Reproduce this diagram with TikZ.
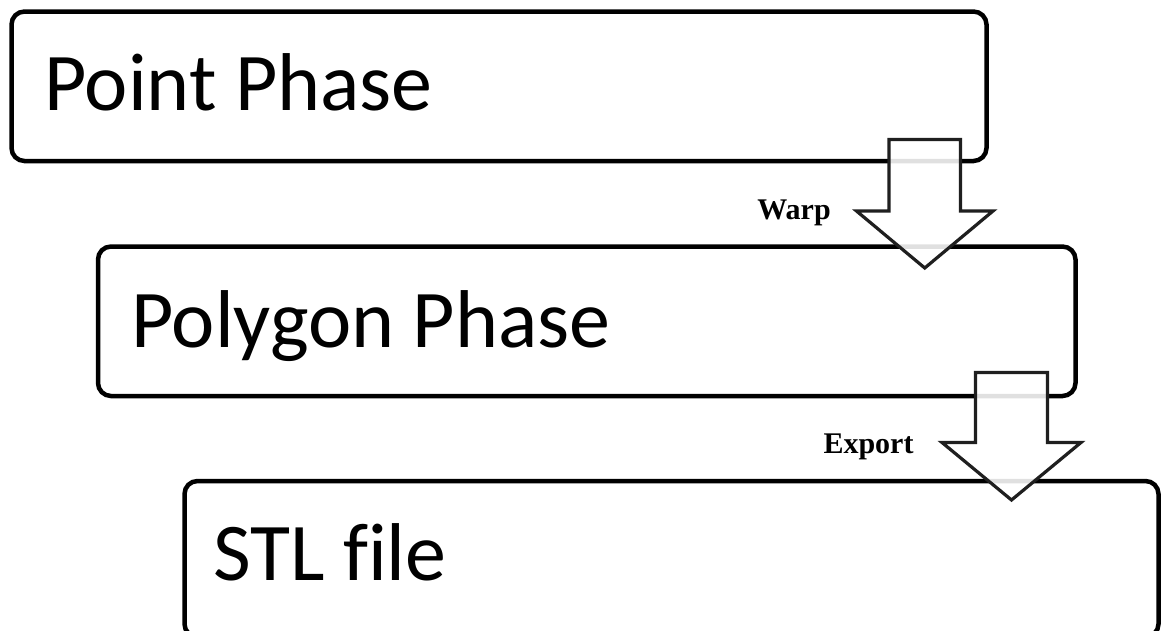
\documentclass[tikz,border=0pt]{standalone}
\usepackage{fontspec}
\setmainfont[Ligatures=CommonOff]{Carlito}
\newfontfamily\labelfont{Liberation Serif}
\begin{document}
\begin{tikzpicture}[x=1pt,y=-1pt,
  phase/.style={draw=black, line width=4.5pt, rounded corners=13pt, inner sep=0pt},
  phasetext/.style={anchor=base west, inner sep=0pt, font=\fontsize{82}{98}\selectfont},
  flow/.style={draw=black!88, line width=3.2pt, fill=white, fill opacity=0.88, line join=miter},
  steplabel/.style={anchor=base, inner sep=0pt, font=\labelfont\bfseries\fontsize{30}{36}\selectfont}]
\useasboundingbox (0,0) rectangle (1165,630);
\clip (0,0) rectangle (1165,630);

% phase boxes
\draw[phase] (11.5,11.5) rectangle (986.5,161);
\draw[phase] (98,246.5) rectangle (1075.5,396);
\draw[phase] (184.5,481) rectangle (1158.5,637);

\node[phasetext] (pointtext) at (44,110) {Point Phase};
\node[phasetext] (polytext) at (131,347) {Polygon Phase};
\node[phasetext] (stltext) at (213,580) {STL file};

% block arrows between phases
\draw[flow] (889,139.5) -- (960.5,139.5) -- (960.5,211) -- (993,211)
  -- (924.75,268) -- (856.5,211) -- (889,211) -- cycle;
\draw[flow] (975.5,372.5) -- (1047.5,372.5) -- (1047.5,442.5) -- (1081,442.5)
  -- (1011.5,500) -- (942,442.5) -- (975.5,442.5) -- cycle;

\node[steplabel] (warp) at (794,219) {Warp};
\node[steplabel] (export) at (868.5,453) {Export};
\end{tikzpicture}
\end{document}
